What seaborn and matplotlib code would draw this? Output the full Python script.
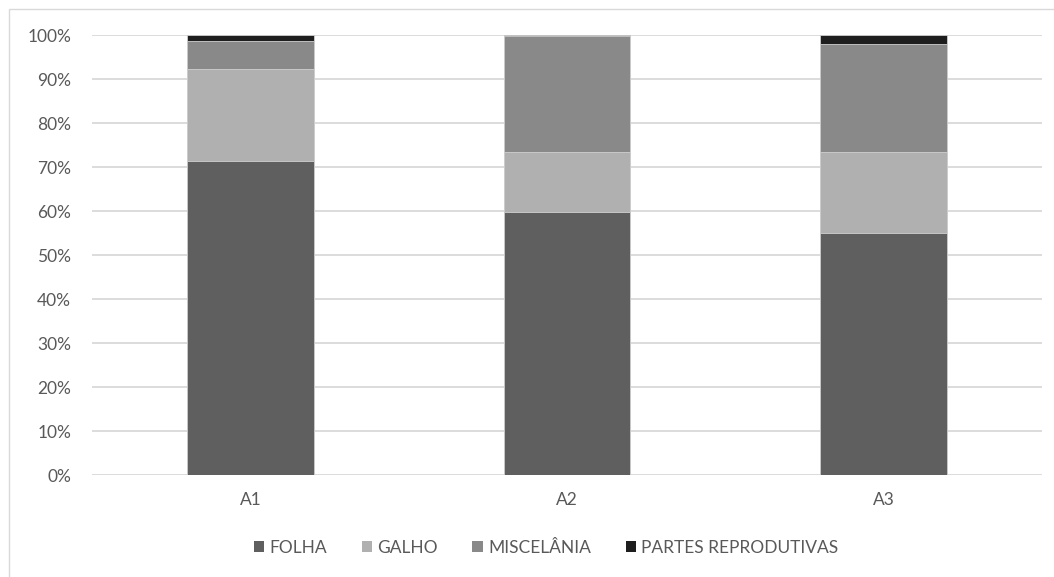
import matplotlib
matplotlib.use("Agg")
import matplotlib.pyplot as plt
import seaborn as sns
import pandas as pd
import numpy as np
from matplotlib.patches import Patch, Rectangle

categories = ["A1", "A2", "A3"]
parts = ["FOLHA", "GALHO", "MISCELÂNIA", "PARTES REPRODUTIVAS"]
folha = [71.4, 59.8, 55.0]
galho = [20.9, 13.7, 18.5]
miscelania = [6.4, 26.3, 24.4]
reprodutivas = [1.3, 0.2, 2.1]
colors = ["#5f5f5f", "#b0b0b0", "#898989", "#1e1e1e"]

series = [folha, galho, miscelania, reprodutivas]
cum = np.cumsum(np.array(series), axis=0)

sns.set_theme(style="white")
plt.rcParams["font.family"] = ["Lato", "DejaVu Sans"]

fig = plt.figure(figsize=(10.54, 5.77), dpi=100)
ax = fig.add_axes([92/1054, 1-475/577, (1042-92)/1054, (475-35)/577])

# draw cumulative bars from top layer down so each segment shows
for i in range(len(parts) - 1, -1, -1):
    df = pd.DataFrame({"area": categories, "valor": cum[i]})
    sns.barplot(data=df, x="area", y="valor", color=colors[i], width=0.4,
                saturation=1, edgecolor="#d0d0d0", linewidth=0.6, ax=ax, zorder=3)

ax.set_ylim(0, 100)
ax.set_xlim(-0.5, 2.5)
ax.set_yticks(np.arange(0, 101, 10))
ax.set_yticklabels([f"{v}%" for v in range(0, 101, 10)])
ax.yaxis.grid(True, color="#d9d9d9", linewidth=1.3, zorder=0)
ax.set_axisbelow(True)
for s in ax.spines.values():
    s.set_visible(False)
ax.set_xlabel("")
ax.set_ylabel("")
ax.tick_params(axis="y", length=0, pad=15, labelsize=12.5, labelcolor="#595959")
ax.tick_params(axis="x", length=0, pad=12, labelsize=12.5, labelcolor="#595959")

handles = [Patch(facecolor=c, edgecolor="none") for c in colors]
fig.legend(handles, parts, loc="center", bbox_to_anchor=(546/1054, 1-548/577),
           ncol=4, frameon=False, fontsize=12.5, handlelength=0.6, handleheight=0.6,
           handletextpad=0.3, columnspacing=2.0, labelcolor="#595959")

fig.patches.append(Rectangle((9/1054, -0.1), 1.2, 1-9/577+0.1, transform=fig.transFigure,
                             fill=False, edgecolor="#d9d9d9", linewidth=1))

fig.savefig("out.png", dpi=100, facecolor="white")
